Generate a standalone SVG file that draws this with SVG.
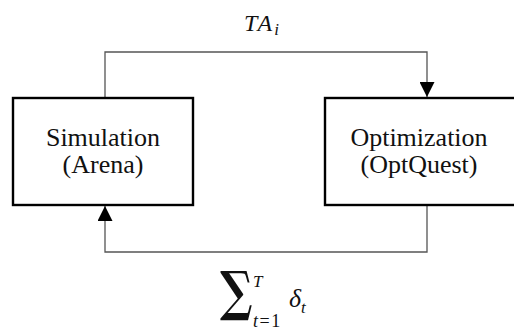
<svg xmlns="http://www.w3.org/2000/svg" width="514" height="331" viewBox="0 0 514 331">
<defs>
<style>
.box{fill:#fff;stroke:#000;stroke-width:2.4}
.lbl{font-family:"Liberation Serif","Times New Roman",serif;font-size:26px;fill:#111;text-anchor:middle}
.conn{fill:none;stroke:#555;stroke-width:1.3}
.math{font-family:"Liberation Serif","Times New Roman",serif;font-style:italic;fill:#111}
</style>
<marker id="arr" viewBox="0 0 10 10" refX="10" refY="5" markerWidth="15" markerHeight="15" markerUnits="userSpaceOnUse" orient="auto">
<path d="M0,0 L10,5 L0,10 Z" fill="#000"/>
</marker>
</defs>
<g id="connectors">
<path class="conn" d="M105,97 V52 H427 V97" marker-end="url(#arr)"/>
<path class="conn" d="M427,206 V252 H105 V206" marker-end="url(#arr)"/>
</g>
<g id="simulation">
<rect class="box" x="13" y="98" width="180" height="107"/>
<text class="lbl" x="103" y="146">Simulation</text>
<text class="lbl" x="103" y="173">(Arena)</text>
</g>
<g id="optimization">
<rect class="box" x="325" y="98" width="200" height="107"/>
<text class="lbl" x="419" y="146">Optimization</text>
<text class="lbl" x="419" y="173">(OptQuest)</text>
</g>
<g id="label-top">
<text class="math" x="244" y="31" font-size="24" letter-spacing="2">TA<tspan font-size="17" dy="4" letter-spacing="0">i</tspan></text>
</g>
<g id="label-bottom">
<text transform="translate(220,310) scale(0.8,1)" x="0" y="0" font-family="DejaVu Serif, serif" font-size="54" font-weight="bold" fill="#111">∑</text>
<text class="math" x="253" y="287" font-size="17">T</text>
<text class="math" x="253" y="327" font-size="18" letter-spacing="1.5">t<tspan font-style="normal">=1</tspan></text>
<text class="math" x="289" y="307" font-size="26">δ<tspan font-size="17" dy="6">t</tspan></text>
</g>
</svg>
